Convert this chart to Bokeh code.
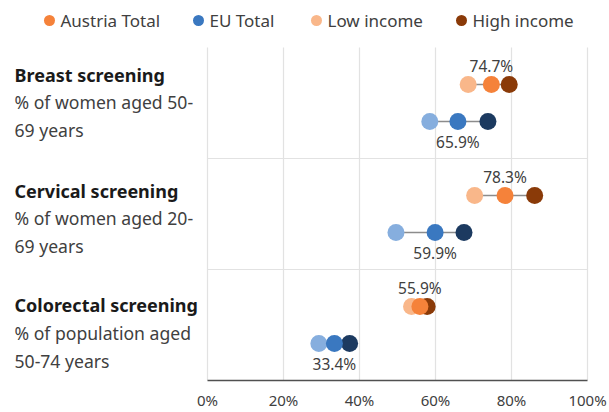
from bokeh.plotting import figure
from bokeh.models import Range1d, FixedTicker, PrintfTickFormatter
from bokeh.embed import file_html
from bokeh.resources import INLINE
from bokeh.core.properties import value

# ---------------- data ----------------
categories = ["Breast screening", "Cervical screening", "Colorectal screening"]
subtitles_1 = ["% of women aged 50-", "% of women aged 20-", "% of population aged"]
subtitles_2 = ["69 years", "69 years", "50-74 years"]
austria_total = [74.7, 78.3, 55.9]
austria_low = [68.6, 70.3, 53.7]
austria_high = [79.4, 86.1, 57.8]
eu_total = [65.9, 59.9, 33.4]
eu_low = [58.5, 49.6, 29.3]
eu_high = [73.8, 67.5, 37.4]
ticks = [0, 20, 40, 60, 80, 100]
legend_labels = ["Austria Total", "EU Total", "Low income", "High income"]

# ---------------- styles ----------------
C_AT = "#F5823A"
C_AT_LOW = "#F9B78A"
C_AT_HIGH = "#8A3A08"
C_EU = "#3A78C0"
C_EU_LOW = "#86AEDE"
C_EU_HIGH = "#1C3A60"
legend_colors = [C_AT, C_EU, C_AT_LOW, C_AT_HIGH]
FONT = "Noto Sans"
TXT = "#404040"

# canvas-pixel layout helpers
PX0, PXS = 207.0, 3.8      # pixel x of 0 %, pixels per %
PY0, BAND = 47.0, 111.0    # pixel y of first band top, band height
FW, FH = 609, 380          # frame size (frame starts at canvas 0,0)


def dx(px):
    return (px - PX0) / PXS


def dy(py):
    return (py - PY0) / BAND


p = figure(frame_width=FW, frame_height=FH, output_backend="svg",
           toolbar_location=None,
           x_range=Range1d(dx(0), dx(FW)), y_range=Range1d(dy(FH), dy(0)),
           min_border_left=0, min_border_right=0, min_border_top=0,
           min_border_bottom=32)
p.outline_line_color = None
p.background_fill_color = "white"
p.border_fill_color = "white"
p.grid.visible = False
p.yaxis.visible = False

ax = p.xaxis[0]
ax.ticker = FixedTicker(ticks=ticks)
ax.formatter = PrintfTickFormatter(format="%d%%")
ax.bounds = (ticks[0], ticks[-1])
ax.axis_line_color = "#505050"
ax.axis_line_width = 1.6
ax.major_tick_line_color = None
ax.major_tick_out = 0
ax.major_tick_in = 0
ax.minor_tick_line_color = None
ax.minor_tick_out = 0
ax.minor_tick_in = 0
ax.major_label_text_font = FONT
ax.major_label_text_font_size = "15px"
ax.major_label_text_color = TXT
ax.major_label_standoff = 9

n = len(categories)
# vertical grid lines
p.segment(x0=ticks, y0=[0] * len(ticks), x1=ticks, y1=[n] * len(ticks),
          line_color="#e2e2e2", line_width=1.2)
# band separators
p.segment(x0=[ticks[0]] * (n - 1), y0=list(range(1, n)),
          x1=[ticks[-1]] * (n - 1), y1=list(range(1, n)),
          line_color="#e2e2e2", line_width=1.2)

y_at = [i + 1 / 3 for i in range(n)]
y_eu = [i + 2 / 3 for i in range(n)]

for lo, hi, tot, ys, cl, ch, ct in [
    (austria_low, austria_high, austria_total, y_at, C_AT_LOW, C_AT_HIGH, C_AT),
    (eu_low, eu_high, eu_total, y_eu, C_EU_LOW, C_EU_HIGH, C_EU),
]:
    p.segment(x0=lo, y0=ys, x1=hi, y1=ys, line_color="#8c8c8c", line_width=1.6)
    p.scatter(x=lo, y=ys, size=17, fill_color=cl, line_color=None)
    p.scatter(x=hi, y=ys, size=17, fill_color=ch, line_color=None)
    p.scatter(x=tot, y=ys, size=17, fill_color=ct, line_color=None)

# value labels
p.text(x=austria_total, y=[y - 19 / BAND for y in y_at],
       text=[f"{v:.1f}%" for v in austria_total],
       text_align="center", text_baseline="alphabetic",
       text_font=value(FONT), text_font_size="15.5px", text_color=TXT)
p.text(x=eu_total, y=[y + 20 / BAND for y in y_eu],
       text=[f"{v:.1f}%" for v in eu_total],
       text_align="center", text_baseline="alphabetic",
       text_font=value(FONT), text_font_size="15.5px", text_color=TXT)

# left-hand category labels
title_base = [74, 190.3, 304.7]
xs = [dx(14)] * n
p.text(x=xs, y=[dy(b) for b in title_base], text=categories,
       text_align="left", text_baseline="alphabetic",
       text_font=value(FONT), text_font_style="bold", text_font_size="18px",
       text_color="#1a1a1a")
p.text(x=xs, y=[dy(b + 27.3) for b in title_base], text=subtitles_1,
       text_align="left", text_baseline="alphabetic",
       text_font=value(FONT), text_font_size="17.6px", text_color=TXT)
p.text(x=xs, y=[dy(b + 55.5) for b in title_base], text=subtitles_2,
       text_align="left", text_baseline="alphabetic",
       text_font=value(FONT), text_font_size="17.6px", text_color=TXT)

# legend (top)
leg_circle_px = [49, 198, 316, 461]
p.scatter(x=[dx(v) for v in leg_circle_px], y=[dy(20)] * 4, size=11,
          fill_color=legend_colors, line_color=None)
p.text(x=[dx(v + 11) for v in leg_circle_px], y=[dy(20)] * 4, text=legend_labels,
       text_align="left", text_baseline="alphabetic",
       text_font=value(FONT), text_font_size="17px", text_color=TXT)

open("out.html", "w").write(file_html(p, INLINE))
